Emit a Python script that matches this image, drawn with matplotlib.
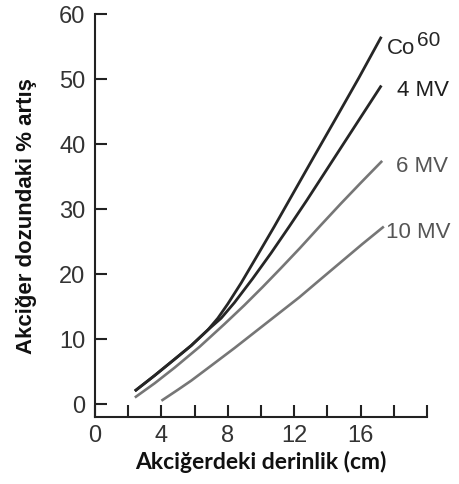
import matplotlib
matplotlib.use("Agg")
import matplotlib.pyplot as plt
from matplotlib.ticker import FixedLocator

# Lung depth (cm) vs. percent increase in lung dose, per beam energy
co60_x = [2.4, 3.6, 4.8, 5.8, 6.8, 7.4, 8.0, 8.8, 9.7, 10.8, 12.0, 13.2, 14.5, 15.9, 17.25]
co60_y = [2.0, 4.4, 6.9, 9.0, 11.4, 13.2, 15.4, 18.6, 22.5, 27.3, 32.7, 38.1, 43.9, 50.2, 56.5]

mv4_x = [2.4, 3.6, 4.8, 5.8, 6.8, 7.6, 8.4, 9.5, 10.6, 11.7, 12.75, 14.3, 15.85, 17.25]
mv4_y = [2.0, 4.4, 6.9, 9.0, 11.4, 13.2, 15.6, 19.3, 23.2, 27.3, 31.3, 37.4, 43.5, 49.0]

mv6_x = [2.4, 3.6, 4.8, 6.3, 7.8, 9.0, 10.1, 11.2, 12.35, 13.6, 14.8, 16.0, 17.3]
mv6_y = [1.0, 3.2, 5.6, 8.8, 12.3, 15.2, 18.0, 20.9, 24.0, 27.5, 30.8, 34.0, 37.4]

mv10_x = [4.0, 5.0, 5.8, 7.0, 8.4, 10.3, 12.3, 13.5, 14.8, 16.1, 17.4]
mv10_y = [0.5, 2.2, 3.6, 5.9, 8.6, 12.4, 16.4, 19.0, 21.8, 24.6, 27.3]

curve_labels = ["Co", "4 MV", "6 MV", "10 MV"]
co_mass = "60"

x_major = [0, 4, 8, 12, 16]
x_minor = [2, 6, 10, 14, 18, 20]
y_ticks = [0, 10, 20, 30, 40, 50, 60]

dark = "#262626"
gray = "#767676"
text_col = "#333333"

fig = plt.figure(figsize=(4.59, 4.85), dpi=100)
ax = fig.add_axes([95 / 459, 67 / 485, 332 / 459, 403 / 485])

ax.plot(mv10_x, mv10_y, color=gray, lw=1.9, solid_capstyle="butt")
ax.plot(mv6_x, mv6_y, color=gray, lw=1.9, solid_capstyle="butt")
ax.plot(mv4_x, mv4_y, color=dark, lw=2.0, solid_capstyle="butt")
ax.plot(co60_x, co60_y, color=dark, lw=2.0, solid_capstyle="butt")

ax.set_xlim(0, 20)
ax.set_ylim(-2, 60)

for side in ("top", "right"):
    ax.spines[side].set_visible(False)
for side in ("left", "bottom"):
    ax.spines[side].set_color("#222222")
    ax.spines[side].set_linewidth(1.5)

ax.xaxis.set_major_locator(FixedLocator(x_major))
ax.xaxis.set_minor_locator(FixedLocator(x_minor))
ax.yaxis.set_major_locator(FixedLocator(y_ticks))
ax.set_xticklabels([str(v) for v in x_major])
ax.set_yticklabels([str(v) for v in y_ticks])

ax.tick_params(axis="both", which="both", direction="in", length=8.5,
               width=1.5, color="#222222")
ax.tick_params(axis="y", which="major", pad=7, labelsize=17, labelcolor=text_col)
ax.tick_params(axis="x", which="major", pad=5, labelsize=17, labelcolor=text_col)
for lbl in ax.get_xticklabels() + ax.get_yticklabels():
    lbl.set_family("Liberation Sans")

ax.set_xlabel("Akciğerdeki derinlik (cm)", fontsize=16.5, fontweight="bold",
              family="Lato", color="#111111", labelpad=3)
ax.set_ylabel("Akciğer dozundaki % artış", fontsize=16, fontweight="bold",
              family="Liberation Sans", color="#111111", labelpad=16)

lab_font = dict(family="Liberation Sans", va="center", ha="left")
ax.annotate(curve_labels[0], xy=(co60_x[-1], co60_y[-1]), xytext=(4, -8),
            textcoords="offset points", fontsize=16, color=dark,
            annotation_clip=False, **lab_font)
ax.annotate(co_mass, xy=(co60_x[-1], co60_y[-1]), xytext=(25.5, -2),
            textcoords="offset points", fontsize=15, color=dark,
            annotation_clip=False, **lab_font)
ax.annotate(curve_labels[1], xy=(mv4_x[-1], mv4_y[-1]), xytext=(11, -3),
            textcoords="offset points", fontsize=16, color="#1e1e1e",
            annotation_clip=False, **lab_font)
ax.annotate(curve_labels[2], xy=(mv6_x[-1], mv6_y[-1]), xytext=(10, -3),
            textcoords="offset points", fontsize=16, color="#555555",
            annotation_clip=False, **lab_font)
ax.annotate(curve_labels[3], xy=(mv10_x[-1], mv10_y[-1]), xytext=(1.5, -3.5),
            textcoords="offset points", fontsize=16, color="#555555",
            annotation_clip=False, **lab_font)

fig.savefig("out.png", dpi=100)
